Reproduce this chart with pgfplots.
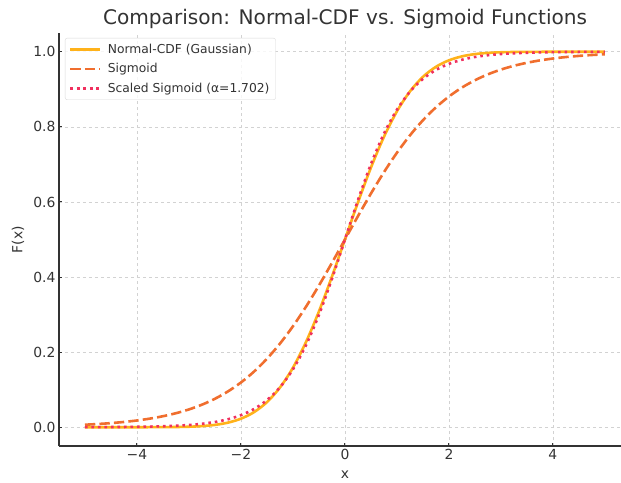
\documentclass[border=0pt]{standalone}
\usepackage{fontspec}
\setmainfont{DejaVu Sans}
\usepackage{pgfplots}
\pgfplotsset{compat=1.18}
\definecolor{cdfc}{HTML}{FFB21A}
\definecolor{sigc}{HTML}{F06E2E}
\definecolor{scalc}{HTML}{F0305E}
\definecolor{txt}{HTML}{333333}
\begin{document}
\begin{tikzpicture}
\begin{axis}[
  name=main,
  scale only axis, width=562pt, height=413pt,
  xmin=-5.5, xmax=5.31, ymin=-0.05, ymax=1.05,
  axis x line=bottom, axis y line=left,
  axis line style={-, txt, line width=1.1pt},
  tick align=inside, major tick length=3.5pt,
  tick style={txt, line width=1pt},
  xtick={-4,-2,0,2,4}, xticklabels={−4,−2,0,2,4},
  ytick={0,0.2,0.4,0.6,0.8,1.0},
  yticklabel style={/pgf/number format/.cd, fixed, fixed zerofill, precision=1},
  /pgf/number format/assume math mode=true,
  ticklabel style={font=\fontsize{13.9}{16}\selectfont, text=txt},
  grid=major, major grid style={dashed, gray!35, line width=0.6pt},
  title={Comparison: Normal-CDF vs. Sigmoid Functions},
  title style={at={(axis description cs:0.509,1.02)}, anchor=center, font=\fontsize{20.1}{23}\selectfont, text=txt},
  xlabel={x}, ylabel={F(x)},
  xlabel style={at={(axis description cs:0.509,-0.070)}, anchor=center, font=\fontsize{13.9}{16}\selectfont, text=txt},
  ylabel style={at={(axis description cs:-0.073,0.5)}, anchor=center, font=\fontsize{13.9}{16}\selectfont, text=txt},
  legend style={at={(axis description cs:0,1)}, anchor=north west, xshift=6pt, yshift=-5pt,
    draw=gray!30, rounded corners=2pt, fill=white, fill opacity=0.8, text opacity=1,
    font=\fontsize{12.3}{15}\selectfont, text=txt, row sep=4.5pt, inner sep=4pt},
  legend cell align=left,
  legend image code/.code={\draw[#1] (0pt,0pt) -- (30pt,0pt); \path (34pt,0pt);},
]
\addplot[cdfc, line width=2.6pt, smooth] coordinates {
(-5,0.0000003) (-4.75,0.000001) (-4.5,0.000003) (-4.25,0.000011) (-4,0.000032)
(-3.75,0.000088) (-3.5,0.000233) (-3.25,0.000577) (-3,0.00135) (-2.75,0.00298)
(-2.5,0.00621) (-2.25,0.01222) (-2,0.02275) (-1.75,0.04006) (-1.5,0.06681)
(-1.25,0.10565) (-1,0.15866) (-0.75,0.22663) (-0.5,0.30854) (-0.25,0.40129)
(0,0.5) (0.25,0.59871) (0.5,0.69146) (0.75,0.77337) (1,0.84134)
(1.25,0.89435) (1.5,0.93319) (1.75,0.95994) (2,0.97725) (2.25,0.98778)
(2.5,0.99379) (2.75,0.99702) (3,0.99865) (3.25,0.99942) (3.5,0.99977)
(3.75,0.99991) (4,0.99997) (4.25,0.99999) (4.5,1.0) (4.75,1.0) (5,1.0)
};
\addlegendentry{Normal-CDF (Gaussian)}
\addplot[sigc, line width=2.6pt, dash pattern=on 10.3pt off 4.2pt, smooth] coordinates {
(-5,0.00669) (-4.75,0.00858) (-4.5,0.01099) (-4.25,0.01406) (-4,0.01799)
(-3.75,0.02298) (-3.5,0.02931) (-3.25,0.03733) (-3,0.04743) (-2.75,0.06009)
(-2.5,0.07586) (-2.25,0.09535) (-2,0.11920) (-1.75,0.14805) (-1.5,0.18243)
(-1.25,0.22270) (-1,0.26894) (-0.75,0.32082) (-0.5,0.37754) (-0.25,0.43782)
(0,0.5) (0.25,0.56218) (0.5,0.62246) (0.75,0.67918) (1,0.73106)
(1.25,0.77730) (1.5,0.81757) (1.75,0.85195) (2,0.88080) (2.25,0.90465)
(2.5,0.92414) (2.75,0.93991) (3,0.95257) (3.25,0.96267) (3.5,0.97069)
(3.75,0.97702) (4,0.98201) (4.25,0.98594) (4.5,0.98901) (4.75,0.99142) (5,0.99331)
};
\addlegendentry{Sigmoid}
\addplot[scalc, line width=2.6pt, dash pattern=on 2.6pt off 3.9pt, smooth] coordinates {
(-5,0.00020) (-4.75,0.00031) (-4.5,0.00047) (-4.25,0.00072) (-4,0.00110)
(-3.75,0.00169) (-3.5,0.00258) (-3.25,0.00394) (-3,0.00602) (-2.75,0.00918)
(-2.5,0.01399) (-2.25,0.02125) (-2,0.03217) (-1.75,0.04841) (-1.5,0.07223)
(-1.25,0.10645) (-1,0.15422) (-0.75,0.21815) (-0.5,0.29922) (-0.25,0.39520)
(0,0.5) (0.25,0.60480) (0.5,0.70078) (0.75,0.78185) (1,0.84578)
(1.25,0.89355) (1.5,0.92777) (1.75,0.95159) (2,0.96783) (2.25,0.97875)
(2.5,0.98601) (2.75,0.99082) (3,0.99398) (3.25,0.99606) (3.5,0.99742)
(3.75,0.99831) (4,0.99890) (4.25,0.99928) (4.5,0.99953) (4.75,0.99969) (5,0.99980)
};
\addlegendentry{Scaled Sigmoid (α=1.702)}
\end{axis}
\pgfresetboundingbox
\path[use as bounding box] (main.south west) ++(-59pt,-36pt) rectangle ++(621pt,482pt);
\end{tikzpicture}
\end{document}
